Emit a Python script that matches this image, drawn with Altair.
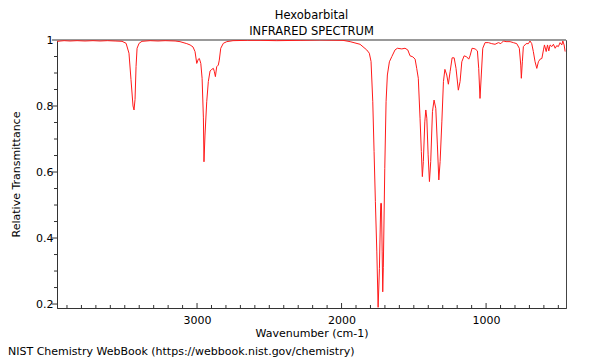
import altair as alt
import pandas as pd

# ---- data ----
wavenumber = [3969, 3920, 3879, 3830, 3775, 3720, 3671, 3620, 3567, 3519, 3491, 3471, 3457, 3443,
              3436, 3429, 3422, 3415, 3401, 3381, 3325, 3270, 3221, 3152, 3118, 3071, 3048, 3028,
              3014, 3002, 2991, 2984, 2974, 2965, 2956, 2952, 2945, 2933, 2922, 2910, 2898, 2887,
              2880, 2873, 2864, 2853, 2846, 2836, 2818, 2794, 2751, 2650, 2564, 2450, 2287, 2150,
              1990, 1941, 1872, 1826, 1808, 1796, 1784, 1775, 1766, 1756, 1747, 1738, 1729, 1724,
              1719, 1715, 1711, 1701, 1692, 1683, 1669, 1652, 1630, 1614, 1583, 1561, 1542, 1526,
              1507, 1491, 1480, 1469, 1457, 1448, 1441, 1434, 1424, 1417, 1410, 1401, 1392, 1383,
              1371, 1360, 1348, 1337, 1327, 1318, 1306, 1295, 1285, 1272, 1261, 1249, 1235, 1221,
              1208, 1192, 1180, 1168, 1152, 1134, 1120, 1111, 1097, 1076, 1060, 1051, 1042, 1033,
              1023, 1007, 984, 961, 938, 915, 898, 880, 862, 834, 811, 788, 770, 760,
              756, 749, 742, 723, 707, 696, 684, 673, 661, 649, 638, 626, 614, 603,
              596, 584, 575, 566, 557, 545, 534, 522, 511, 500, 488, 476, 469, 460, 453]

transmittance = [0.996, 0.998, 0.997, 0.998, 0.997, 0.998, 0.997, 0.998, 0.997, 0.996, 0.990, 0.960, 0.880, 0.800,
                 0.788, 0.820, 0.920, 0.975, 0.990, 0.996, 0.998, 0.997, 0.998, 0.997, 0.995, 0.989, 0.985, 0.979,
                 0.965, 0.929, 0.942, 0.944, 0.929, 0.884, 0.764, 0.631, 0.712, 0.813, 0.874, 0.906, 0.911, 0.914,
                 0.904, 0.889, 0.919, 0.924, 0.939, 0.975, 0.990, 0.995, 0.998, 0.999, 0.999, 0.998, 0.999, 1.000,
                 0.999, 0.995, 0.987, 0.970, 0.960, 0.935, 0.813, 0.662, 0.510, 0.358, 0.190, 0.308, 0.505, 0.505,
                 0.358, 0.237, 0.310, 0.611, 0.813, 0.894, 0.934, 0.950, 0.970, 0.975, 0.973, 0.975, 0.970, 0.952,
                 0.949, 0.942, 0.914, 0.884, 0.763, 0.662, 0.586, 0.632, 0.752, 0.788, 0.763, 0.652, 0.571, 0.632,
                 0.783, 0.818, 0.793, 0.682, 0.576, 0.632, 0.752, 0.874, 0.911, 0.894, 0.866, 0.904, 0.946, 0.946,
                 0.914, 0.848, 0.874, 0.934, 0.952, 0.949, 0.942, 0.952, 0.975, 0.973, 0.967, 0.914, 0.823, 0.894,
                 0.975, 0.992, 0.992, 0.989, 0.987, 0.992, 0.989, 0.997, 0.995, 0.995, 0.992, 0.989, 0.975, 0.924,
                 0.884, 0.934, 0.980, 0.989, 0.989, 0.997, 0.989, 0.965, 0.934, 0.914, 0.934, 0.942, 0.944, 0.970,
                 0.985, 0.965, 0.985, 0.967, 0.985, 0.980, 0.987, 0.975, 0.983, 0.980, 0.992, 0.985, 0.997, 0.985, 0.965]

assert len(wavenumber) == len(transmittance)

x_major = [3000, 2000, 1000]
x_minor = [3900, 3800, 3700, 3600, 3500, 3400, 3300, 3200, 3100, 2900, 2800, 2700, 2600, 2500,
           2400, 2300, 2200, 2100, 1900, 1800, 1700, 1600, 1500, 1400, 1300, 1200, 1100, 900,
           800, 700, 600, 500]
y_major = [0.2, 0.4, 0.6, 0.8, 1.0]
y_minor = [0.25, 0.3, 0.35, 0.45, 0.5, 0.55, 0.65, 0.7, 0.75, 0.85, 0.9, 0.95]
x_domain = [447, 3969]
y_domain = [0.188, 1.0]

title_lines = ["Hexobarbital", "INFRARED SPECTRUM"]
x_title = "Wavenumber (cm-1)"
y_title = "Relative Transmittance"
footer = ["NIST Chemistry WebBook (https://webbook.nist.gov/chemistry)"]

# ---- layout / style ----
W, H = 509, 268
FONT = "DejaVu Sans"
AXIS_COLOR = "#333333"

x_scale = alt.Scale(domain=x_domain, reverse=True, nice=False, zero=False)
y_scale = alt.Scale(domain=y_domain, nice=False, zero=False)

x_axis = alt.Axis(title=x_title, values=x_major, format="d", ticks=False, grid=False,
                  labelPadding=6, titlePadding=2, labelFlush=False)
y_axis = alt.Axis(title=y_title, values=y_major, format="~g", ticks=False, grid=False,
                  labelPadding=4, titlePadding=14, labelFlush=False)

spec_df = pd.DataFrame({"wn": wavenumber, "t": transmittance})

top_rule = alt.Chart(pd.DataFrame({"t": [y_domain[1]]})).mark_rule(
    color="#999999", strokeWidth=2
).encode(y=alt.Y("t:Q", scale=y_scale, axis=y_axis))

line = alt.Chart(spec_df).mark_line(color="#ff1a1a", strokeWidth=1, clip=True).encode(
    x=alt.X("wn:Q", scale=x_scale, axis=x_axis),
    y=alt.Y("t:Q", scale=y_scale, axis=y_axis),
)

xmaj = alt.Chart(pd.DataFrame({"wn": x_major})).mark_rule(color=AXIS_COLOR, strokeWidth=1).encode(
    x=alt.X("wn:Q", scale=x_scale, axis=x_axis), y=alt.value(H), y2=alt.value(H - 5))
xmin = alt.Chart(pd.DataFrame({"wn": x_minor})).mark_rule(color=AXIS_COLOR, strokeWidth=1).encode(
    x=alt.X("wn:Q", scale=x_scale, axis=x_axis), y=alt.value(H), y2=alt.value(H - 3))
ymaj = alt.Chart(pd.DataFrame({"t": y_major})).mark_rule(color=AXIS_COLOR, strokeWidth=1).encode(
    y=alt.Y("t:Q", scale=y_scale, axis=y_axis), x=alt.value(0), x2=alt.value(-5))
ymin = alt.Chart(pd.DataFrame({"t": y_minor})).mark_rule(color=AXIS_COLOR, strokeWidth=1).encode(
    y=alt.Y("t:Q", scale=y_scale, axis=y_axis), x=alt.value(0), x2=alt.value(-3))

foot = alt.Chart(pd.DataFrame({"f": footer})).mark_text(
    align="left", baseline="middle", font=FONT, fontSize=11, color="black"
).encode(x=alt.value(-49), y=alt.value(312), text="f:N")

chart = alt.layer(top_rule, line, xmaj, xmin, ymaj, ymin, foot).properties(
    width=W, height=H,
    autosize=alt.AutoSizeParams(type="none"),
    padding={"left": 49, "top": 32, "right": 26, "bottom": 50},
    title=alt.Title(title_lines, font=FONT, fontSize=11.5, fontWeight="normal", color="black",
                    anchor="middle", frame="group", lineHeight=16, offset=4, dy=7),
).configure_view(stroke="#444444", strokeWidth=1).configure_axis(
    domainColor=AXIS_COLOR, domainWidth=1, labelFont=FONT, labelFontSize=11, labelColor="black",
    titleFont=FONT, titleFontSize=11, titleFontWeight="normal", titleColor="black"
)

chart.save("out.html", embed_options={"renderer": "svg", "actions": False})
